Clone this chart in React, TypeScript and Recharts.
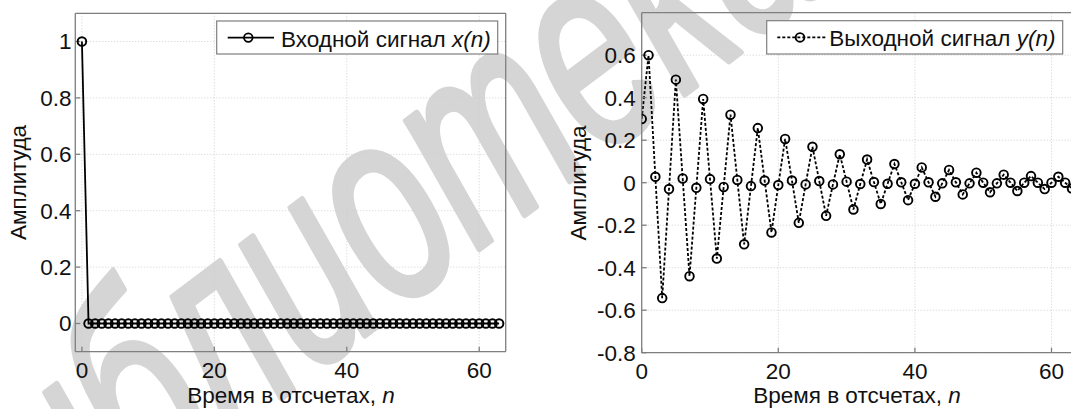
import React from 'react';
import { LineChart, Line, XAxis, YAxis, CartesianGrid } from 'recharts';

const nValues = [
  0, 1, 2, 3, 4, 5, 6, 7, 8, 9, 10, 11, 12, 13, 14, 15,
  16, 17, 18, 19, 20, 21, 22, 23, 24, 25, 26, 27, 28, 29, 30, 31,
  32, 33, 34, 35, 36, 37, 38, 39, 40, 41, 42, 43, 44, 45, 46, 47,
  48, 49, 50, 51, 52, 53, 54, 55, 56, 57, 58, 59, 60, 61, 62, 63,
];

const inputSignal = [
  1, 0, 0, 0, 0, 0, 0, 0, 0, 0, 0, 0, 0, 0, 0, 0,
  0, 0, 0, 0, 0, 0, 0, 0, 0, 0, 0, 0, 0, 0, 0, 0,
  0, 0, 0, 0, 0, 0, 0, 0, 0, 0, 0, 0, 0, 0, 0, 0,
  0, 0, 0, 0, 0, 0, 0, 0, 0, 0, 0, 0, 0, 0, 0, 0,
];

const outputSignal = [
  0.3, 0.6, 0.028, -0.543, -0.03, 0.485, 0.02, -0.44,
  -0.024, 0.394, 0.017, -0.357, -0.02, 0.32, 0.013, -0.29,
  -0.016, 0.257, 0.01, -0.234, -0.011, 0.206, 0.01, -0.189,
  -0.008, 0.169, 0.008, -0.156, -0.008, 0.134, 0.005, -0.126,
  -0.006, 0.109, 0.003, -0.1, -0.005, 0.088, 0.002, -0.082,
  -0.005, 0.072, 0.002, -0.066, -0.003, 0.06, 0.002, -0.055,
  -0.003, 0.047, 0, -0.045, -0.003, 0.038, 0, -0.039,
  0, 0.031, 0, -0.03, 0, 0.028, 0, -0.027,
];

const xTicks = [0, 20, 40, 60];
const leftYTicks = [0, 0.2, 0.4, 0.6, 0.8, 1];
const rightYTicks = [-0.8, -0.6, -0.4, -0.2, 0, 0.2, 0.4, 0.6];

const leftXDomain = [-1, 64];
const leftYDomain = [-0.1, 1.1];
const rightXDomain = [0, 63];
const rightYDomain = [-0.8, 0.8];

const inputLabel = 'Входной сигнал ';
const inputLabelVar = 'x(n)';
const outputLabel = 'Выходной сигнал ';
const outputLabelVar = 'y(n)';
const xTitle = 'Время в отсчетах, ';
const xTitleVar = 'n';
const yTitle = 'Амплитуда';
const watermark = 'библиотека';

const FONT = '"Liberation Sans", Arial, sans-serif';
const FS = 22.5;
const AXIS = '#7f7f7f';
const GRID = '#cfcfcf';
const WM = '#d5d5d5';

const leftData = nValues.map((n, i) => ({ n, v: inputSignal[i] }));
const rightData = nValues.map((n, i) => ({ n, v: outputSignal[i] }));

const tickStyle = { fontSize: FS, fill: '#111', fontFamily: FONT };

function Panel(props: {
  data: { n: number; v: number }[];
  xDomain: number[];
  yDomain: number[];
  yTicks: number[];
  margin: { top: number; left: number; right: number; bottom: number };
  yTickMargin: number;
  dashed: boolean;
}) {
  const { data, xDomain, yDomain, yTicks, margin, yTickMargin, dashed } = props;
  return (
    <LineChart width={540} height={409} data={data} margin={margin}>
      <CartesianGrid stroke={GRID} strokeDasharray="1 2" />
      <XAxis
        dataKey="n"
        type="number"
        domain={xDomain}
        ticks={xTicks}
        allowDataOverflow
        height={40}
        stroke={AXIS}
        strokeWidth={1.3}
        tickSize={-5}
        tickMargin={15.5}
        tick={tickStyle}
      />
      <XAxis
        xAxisId="top"
        orientation="top"
        type="number"
        domain={xDomain}
        ticks={xTicks}
        allowDataOverflow
        height={1}
        stroke={AXIS}
        strokeWidth={1.3}
        tickSize={-5}
        tick={false}
      />
      <YAxis
        type="number"
        domain={yDomain}
        ticks={yTicks}
        allowDataOverflow
        width={60}
        stroke={AXIS}
        strokeWidth={1.3}
        tickSize={-5}
        tickMargin={yTickMargin}
        tick={tickStyle}
      />
      <YAxis
        yAxisId="r"
        orientation="right"
        type="number"
        domain={yDomain}
        ticks={yTicks}
        allowDataOverflow
        width={1}
        stroke={AXIS}
        strokeWidth={1.3}
        tickSize={-5}
        tick={false}
      />
      <Line
        type="linear"
        dataKey="v"
        stroke="#000"
        strokeWidth={1.8}
        strokeDasharray={dashed ? '3 2' : undefined}
        dot={{ r: 4.3, stroke: '#000', strokeWidth: 1.9, fill: 'none', strokeDasharray: '' }}
        isAnimationActive={false}
      />
    </LineChart>
  );
}

export default function App() {
  return (
    <div
      style={{
        position: 'absolute',
        left: 0,
        top: 0,
        width: 1071,
        height: 409,
        overflow: 'hidden',
        background: '#fff',
      }}
    >
      <svg width={1071} height={409} style={{ position: 'absolute', left: 0, top: 0, zIndex: 0 }}>
        <g transform="translate(365 245) rotate(-37) scale(1 1.5)">
          <text
            x={0}
            y={0}
            dy="0.26em"
            textAnchor="middle"
            fontFamily={FONT}
            fontStyle="italic"
            fontSize={185}
            fill={WM}
            stroke={WM}
            strokeWidth={4}
            strokeLinejoin="round"
          >
            {watermark}
          </text>
        </g>
      </svg>

      <div style={{ position: 'absolute', left: 0, top: 0, zIndex: 1 }}>
        <Panel
          data={leftData}
          xDomain={leftXDomain}
          yDomain={leftYDomain}
          yTicks={leftYTicks}
          margin={{ top: 12.3, left: 15.3, right: 33.3, bottom: 17.3 }}
          yTickMargin={8.8}
          dashed={false}
        />
      </div>

      <div style={{ position: 'absolute', left: 540, top: 0, zIndex: 1 }}>
        <Panel
          data={rightData}
          xDomain={rightXDomain}
          yDomain={rightYDomain}
          yTicks={rightYTicks}
          margin={{ top: 11.7, left: 41.7, right: 7, bottom: 16.3 }}
          yTickMargin={11}
          dashed={true}
        />
      </div>

      <svg width={1071} height={409} style={{ position: 'absolute', left: 0, top: 0, zIndex: 2, pointerEvents: 'none' }}>
        <rect x={216.7} y={21} width={281} height={33} fill="#fff" stroke={AXIS} strokeWidth={1.2} />
        <line x1={227.7} y1={37.6} x2={274} y2={37.6} stroke="#000" strokeWidth={1.8} />
        <circle cx={248.3} cy={37.6} r={4.3} fill="none" stroke="#000" strokeWidth={1.8} />
        <text x={281} y={46.5} fontFamily={FONT} fontSize={FS} fill="#111">
          {inputLabel}
          <tspan fontStyle="italic">{inputLabelVar}</tspan>
        </text>

        <rect x={766.7} y={20.7} width={296} height={33.3} fill="#fff" stroke={AXIS} strokeWidth={1.2} />
        <line x1={777.3} y1={37.4} x2={826.7} y2={37.4} stroke="#000" strokeWidth={1.8} strokeDasharray="3 2" />
        <circle cx={800} cy={37.4} r={4.3} fill="none" stroke="#000" strokeWidth={1.9} />
        <text x={829.3} y={46.3} fontFamily={FONT} fontSize={FS} fill="#111">
          {outputLabel}
          <tspan fontStyle="italic">{outputLabelVar}</tspan>
        </text>

        <text x={291} y={403} textAnchor="middle" fontFamily={FONT} fontSize={FS} fill="#111">
          {xTitle}
          <tspan fontStyle="italic">{xTitleVar}</tspan>
        </text>
        <text x={857} y={403} textAnchor="middle" fontFamily={FONT} fontSize={FS} fill="#111">
          {xTitle}
          <tspan fontStyle="italic">{xTitleVar}</tspan>
        </text>
        <text
          x={25.5}
          y={182.5}
          textAnchor="middle"
          fontFamily={FONT}
          fontSize={FS}
          fill="#111"
          transform="rotate(-90 25.5 182.5)"
        >
          {yTitle}
        </text>
        <text
          x={586}
          y={183}
          textAnchor="middle"
          fontFamily={FONT}
          fontSize={FS}
          fill="#111"
          transform="rotate(-90 586 183)"
        >
          {yTitle}
        </text>
      </svg>
    </div>
  );
}
